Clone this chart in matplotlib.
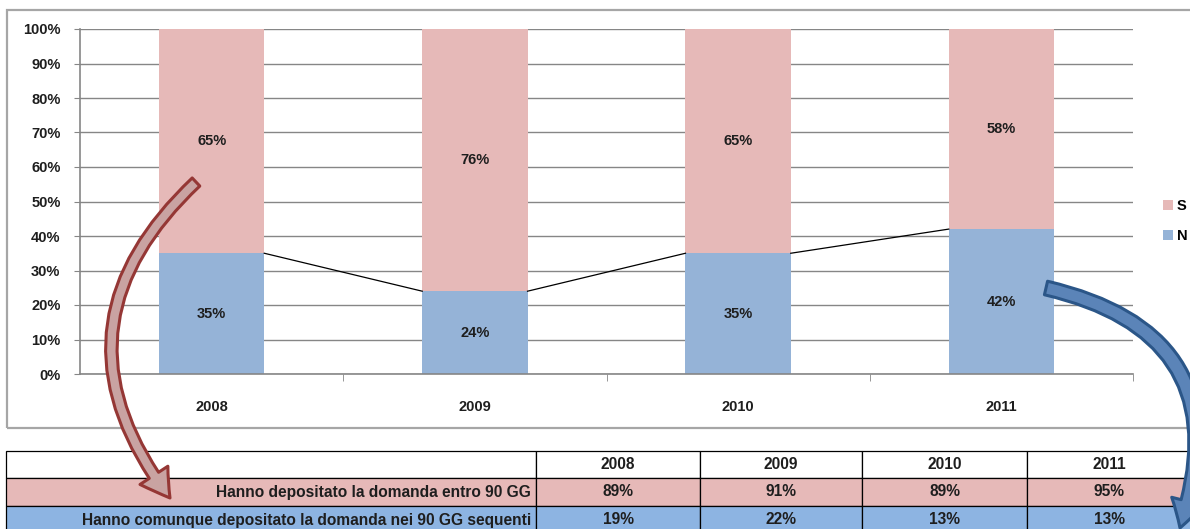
import numpy as np
import matplotlib
matplotlib.use('Agg')
import matplotlib.pyplot as plt
from matplotlib.patches import Rectangle, FancyArrowPatch

plt.rcParams['font.family'] = ['Liberation Sans', 'DejaVu Sans']

# Data
years = ['2008', '2009', '2010', '2011']
s_vals = [65, 76, 65, 58]          # S share (%)
n_vals = [35, 24, 35, 42]          # N share (%)

row_labels = ['Hanno depositato la domanda entro 90 GG',
              'Hanno comunque depositato la domanda nei 90 GG sequenti']
entro_90 = [89, 91, 89, 95]
seguenti_90 = [19, 22, 13, 13]

pink = '#E6B9B8'
blue = '#95B3D7'
grid_c = '#868686'
txt_c = '#1E1E1E'

W, H = 1190, 529
fig = plt.figure(figsize=(W / 100, H / 100), dpi=100)

# chart frame (runs off the right edge)
fig.add_artist(Rectangle((7 / W, 1 - 428 / H), 1.2, (428 - 10) / H, transform=fig.transFigure,
                         fill=False, edgecolor='#A6A6A6', lw=1.6, zorder=0))

# stacked bar chart
ax = fig.add_axes([80 / W, 1 - 374 / H, 1053 / W, 345 / H])
x = np.arange(len(years))
n = np.array(n_vals) / 100
s = np.array(s_vals) / 100
bw = 0.4
bn = ax.bar(x, n, width=bw, color=blue, label='N', zorder=2)
bs = ax.bar(x, s, width=bw, bottom=n, color=pink, label='S', zorder=2)
ax.bar_label(bn, labels=[f'{v}%' for v in n_vals], label_type='center',
             fontsize=10.5, fontweight='bold', color=txt_c)
ax.bar_label(bs, labels=[f'{v}%' for v in s_vals], label_type='center',
             fontsize=10.5, fontweight='bold', color=txt_c)

# series lines between the N tops
for i in range(len(years) - 1):
    ax.plot([x[i] + bw / 2, x[i + 1] - bw / 2], [n[i], n[i + 1]], color='black', lw=0.9, zorder=3)

ax.set_xlim(-0.5, len(years) - 0.5)
ax.set_ylim(0, 1)
ax.set_yticks(np.arange(0, 1.01, 0.1))
ax.set_yticklabels([f'{int(round(v * 100))}%' for v in np.arange(0, 1.01, 0.1)])
ax.set_xticks(x)
ax.set_xticklabels(years)
ax.set_xticks(np.arange(0.5, len(years), 1), minor=True)
ax.tick_params(axis='x', which='major', length=0, pad=19)
ax.tick_params(axis='x', which='minor', length=5, color=grid_c, direction='out')
ax.tick_params(axis='y', length=4, color=grid_c, pad=10)
for lab in ax.get_xticklabels() + ax.get_yticklabels():
    lab.set_fontsize(10.5)
    lab.set_fontweight('bold')
    lab.set_color(txt_c)
ax.yaxis.grid(True, color=grid_c, lw=1)
ax.set_axisbelow(True)
for side in ['top', 'right']:
    ax.spines[side].set_visible(False)
for side in ['left', 'bottom']:
    ax.spines[side].set_color(grid_c)
    ax.spines[side].set_linewidth(1.2)

leg = fig.legend(handles=[bs, bn], labels=['S', 'N'], loc='upper left',
                 bbox_to_anchor=(1150 / W, 1 - 186 / H), frameon=False,
                 handlelength=0.65, handleheight=0.65, handletextpad=0.3,
                 labelspacing=1.1, prop={'weight': 'bold', 'size': 10.5})

# table + arrows drawn in pixel coordinates
ov = fig.add_axes([0, 0, 1, 1])
ov.set_xlim(0, W)
ov.set_ylim(H, 0)
ov.axis('off')

col_edges = [6, 536, 700, 862, 1027, 1192]
row_edges = [451, 478, 506, 534]
row_fill = ['white', pink, '#8DB4E2']
rows = [[''] + years,
        [row_labels[0]] + [f'{v}%' for v in entro_90],
        [row_labels[1]] + [f'{v}%' for v in seguenti_90]]
for r, cells in enumerate(rows):
    y0, y1 = row_edges[r], row_edges[r + 1]
    for c, txt in enumerate(cells):
        x0, x1 = col_edges[c], col_edges[c + 1]
        ov.add_patch(Rectangle((x0, y0), x1 - x0, y1 - y0, facecolor=row_fill[r],
                               edgecolor='black', lw=0.9, zorder=1))
        if c == 0:
            ov.text(x1 - 5, (y0 + y1) / 2, txt, ha='right', va='center',
                    fontsize=11.2, fontweight='bold', color=txt_c, zorder=2)
        else:
            ov.text((x0 + x1) / 2, (y0 + y1) / 2, txt, ha='center', va='center',
                    fontsize=11.2, fontweight='bold', color=txt_c, zorder=2)

red_arrow = FancyArrowPatch((196, 182), (170, 498), connectionstyle='arc3,rad=0.45',
                            arrowstyle='simple,head_length=20,head_width=24,tail_width=8',
                            mutation_scale=1, shrinkA=0, shrinkB=0,
                            facecolor='#C9A3A2', edgecolor='#953735', lw=2.2, zorder=5)
ov.add_patch(red_arrow)

blue_arrow = FancyArrowPatch((1046, 288), (1180, 528), connectionstyle='arc3,rad=-0.55',
                             arrowstyle='simple,head_length=20,head_width=24,tail_width=10',
                             mutation_scale=1, shrinkA=0, shrinkB=0,
                             facecolor='#5B84B8', edgecolor='#2B5688', lw=2.2, zorder=5)
ov.add_patch(blue_arrow)

plt.savefig('out.png', dpi=100)
